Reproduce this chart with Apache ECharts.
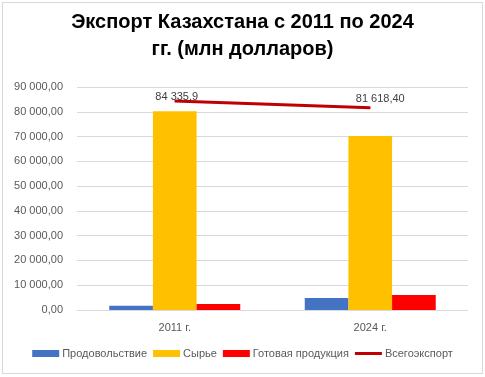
<!DOCTYPE html>
<html>
<head>
<meta charset="utf-8">
<script src="https://cdn.jsdelivr.net/npm/echarts@6/dist/echarts.min.js"></script>
<style>
  html, body { margin: 0; padding: 0; background: #fff; }
  #frame { position: absolute; left: 2px; top: 2px; width: 479px; height: 370px; border: 1px solid #d9d9d9; }
  #main { position: absolute; left: 0; top: 0; width: 485px; height: 377px; }
</style>
</head>
<body>
<div id="frame"></div>
<div id="main"></div>
<script>
// значения, млн долларов
const years = ["2011 г.", "2024 г."];
const food = [1700, 4850];
const raw = [80200, 70200];
const finished = [2450, 6050];
const total = [84335.9, 81618.4];
const totalLabels = ["84 335,9", "81 618,40"];
const yTicks = [0, 10000, 20000, 30000, 40000, 50000, 60000, 70000, 80000, 90000];

const font = "Liberation Sans";
const grey = "#595959";
// thin line icon for the legend (invisible corner dots keep the 27x7 box)
const lineIcon = "path://M0,0L0.01,0L0.01,0.01Z M0,2L27,2L27,5L0,5Z M0,7L0.01,7L0.01,6.99Z";
const labelShift = [[2, 1], [10, -4]];

function fmt(v) {
  return String(v).replace(/\B(?=(\d{3})+(?!\d))/g, " ") + ",00";
}

const myChart = echarts.init(document.getElementById("main"));

const option = {
  animation: false,
  title: {
    text: "Экспорт Казахстана с 2011 по 2024\nгг. (млн долларов)",
    left: "center",
    top: 4,
    textStyle: { fontFamily: font, fontWeight: "bold", fontSize: 20, color: "#000", lineHeight: 27 },
  },
  grid: { left: 77, right: 17, top: 87, bottom: 67 },
  legend: {
    bottom: 13,
    left: "center",
    itemWidth: 27,
    itemHeight: 7,
    itemGap: 6,
    textStyle: { fontFamily: font, fontSize: 11, color: grey, padding: [0, 0, 0, -2] },
    data: [
      { name: "Продовольствие", icon: "rect" },
      { name: "Сырье", icon: "rect" },
      { name: "Готовая продукция", icon: "rect" },
      { name: "Всегоэкспорт", icon: lineIcon },
    ],
  },
  xAxis: {
    type: "category",
    data: years,
    axisLine: { show: false },
    axisTick: { show: false },
    axisLabel: { fontFamily: font, fontSize: 11, color: grey, margin: 12 },
  },
  yAxis: {
    type: "value",
    min: yTicks[0],
    max: yTicks[yTicks.length - 1],
    interval: 10000,
    axisLine: { show: false },
    axisTick: { show: false },
    axisLabel: { fontFamily: font, fontSize: 11, color: grey, margin: 14, formatter: fmt },
    splitLine: { lineStyle: { color: "#d9d9d9" } },
  },
  series: [
    {
      name: "Продовольствие",
      type: "bar",
      data: food,
      itemStyle: { color: "#4472C4" },
      barGap: "0%",
      barCategoryGap: "33%",
    },
    { name: "Сырье", type: "bar", data: raw, itemStyle: { color: "#FFC000" } },
    { name: "Готовая продукция", type: "bar", data: finished, itemStyle: { color: "#FF0000" } },
    {
      name: "Всегоэкспорт",
      type: "line",
      data: total.map((v, i) => ({ value: v, label: { offset: labelShift[i] } })),
      symbol: "circle",
      symbolSize: 1,
      showSymbol: true,
      lineStyle: { color: "#C00000", width: 3 },
      itemStyle: { color: "#C00000" },
      z: 1,
      label: {
        show: true,
        position: "top",
        distance: -1,
        fontFamily: font,
        fontSize: 11,
        color: "#404040",
        formatter: (p) => totalLabels[p.dataIndex],
      },
    },
  ],
};

option && myChart.setOption(option);
</script>
</body>
</html>
